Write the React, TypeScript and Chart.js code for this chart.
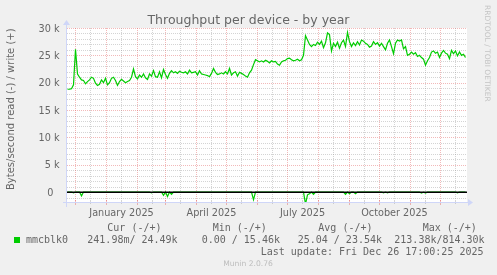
import React, { useEffect, useRef } from 'react';
import { Chart, registerables } from 'chart.js';

Chart.register(...registerables);

const WIDTH = 497;
const HEIGHT = 275;

// x axis: days since 1 January 2025; one sample every 2 days
const START_DAY = -39;
const STEP_DAYS = 2;
const X_MIN = -39.5;
const X_MAX = 360.5;
const Y_MIN = -2000;
const Y_MAX = 30000;

// write (+) throughput, thousands of bytes/second
const writeK = [
  18.8, 18.8, 18.9, 19.6, 26.1, 21.6, 21.0, 20.5, 20.4, 19.8,
  20.2, 20.5, 21.0, 20.8, 19.9, 19.5, 19.7, 20.5, 20.0, 20.8,
  19.6, 20.0, 20.8, 21.0, 20.4, 19.5, 20.2, 20.6, 20.3, 20.0,
  20.2, 20.4, 21.0, 22.5, 21.1, 20.7, 21.4, 21.0, 21.6, 20.9,
  20.6, 21.6, 21.2, 22.2, 21.1, 21.0, 22.0, 20.9, 22.4, 21.5,
  20.8, 21.7, 22.2, 21.8, 22.0, 21.7, 22.1, 21.9, 21.8, 22.0,
  21.6, 22.3, 21.8, 21.9, 22.0, 21.4, 22.2, 21.6, 21.5, 21.4,
  21.3, 21.1, 21.7, 22.6, 21.9, 21.5, 21.6, 21.8, 21.6, 22.0,
  21.6, 22.6, 21.4, 21.8, 22.0, 21.2, 21.9, 21.7, 21.5, 21.2,
  21.0, 21.8, 22.3, 23.3, 24.2, 24.0, 23.8, 24.0, 23.8, 24.1,
  23.9, 23.6, 24.0, 23.8, 23.9, 23.4, 23.2, 23.8, 24.0, 24.1,
  24.4, 24.5, 24.2, 24.0, 24.1, 24.3, 24.0, 24.2, 25.0, 28.6,
  27.8, 27.0, 26.6, 27.0, 26.8, 27.4, 27.0, 27.6, 26.4, 27.3,
  29.1, 28.8, 25.8, 27.2, 26.6, 27.4, 26.3, 27.3, 27.8, 26.6,
  29.2, 27.5, 26.6, 27.3, 26.8, 27.5, 26.9, 27.8, 27.6, 27.2,
  27.0, 26.5, 26.7, 27.5, 27.0, 27.3, 26.7, 27.2, 26.6, 26.0,
  27.2, 27.8, 26.6, 25.3, 27.2, 27.8, 27.6, 27.8, 26.2, 26.6,
  25.0, 25.2, 25.6, 25.2, 25.5, 24.8, 25.0, 24.6, 24.3, 23.2,
  24.0, 24.6, 25.6, 25.8, 25.4, 25.6, 24.6, 25.4, 25.9, 25.4,
  25.2, 24.4, 25.9, 25.3, 25.8, 24.9, 25.6, 25.0, 25.2, 24.6,
];

// read (-) throughput, thousands of bytes/second (drawn below zero)
const readK = [
  0, 0, 0, 0.15, 0, 0, 0, 0.7, 0, 0, 0, 0, 0, 0, 0, 0, 0, 0, 0, 0,
  0, 0, 0, 0, 0, 0, 0, 0, 0, 0, 0, 0, 0, 0, 0, 0, 0, 0, 0, 0,
  0, 0, 0.15, 0, 0, 0, 0, 0, 0.6, 0, 0.8, 0, 0.4, 0, 0, 0, 0, 0, 0, 0,
  0, 0, 0, 0, 0, 0, 0, 0, 0, 0, 0, 0, 0, 0, 0, 0, 0, 0, 0, 0,
  0, 0, 0, 0, 0, 0, 0, 0, 0, 0, 0, 0, 0, 1.4, 0, 0, 0, 0, 0, 0,
  0, 0, 0, 0, 0, 0, 0, 0, 0, 0, 0, 0, 0, 0, 0, 0, 0, 0, 0, 2.2,
  0.5, 0.3, 0, 0.4, 0, 0, 0, 0, 0, 0, 0, 0, 0, 0, 0, 0, 0, 0, 0, 0.4,
  0, 0.3, 0, 0, 0.3, 0, 0, 0, 0, 0, 0, 0, 0, 0, 0, 0, 0, 0, 0.15, 0,
  0.15, 0, 0, 0, 0, 0, 0, 0, 0, 0, 0, 0, 0, 0, 0, 0, 0, 0.2, 0, 0.2,
  0, 0, 0, 0, 0, 0, 0, 0, 0, 0, 0, 0, 0, 0, 0, 0.15, 0, 0, 0, 0,
];

// month starts (major grid) and mid-month (minor grid), days since 1 Jan 2025
const monthStartDays = [-31, 0, 31, 59, 90, 120, 151, 181, 212, 243, 273, 304, 334];
const midMonthDays = [-16, 15, 46, 74, 105, 135, 166, 196, 227, 258, 288, 319, 349];
const xLabelDays = [15, 105, 196, 288];
const xLabels = ['January 2025', 'April 2025', 'July 2025', 'October 2025'];

const yMajorValues = [0, 5000, 10000, 15000, 20000, 25000, 30000];
const yTickLabels = ['0  ', '5 k', '10 k', '15 k', '20 k', '25 k', '30 k'];
const yMinorStep = 1000;

const TITLE = 'Throughput per device - by year';
const Y_TITLE = 'Bytes/second read (-) / write (+)';
const WATERMARK = 'RRDTOOL / TOBI OETIKER';
const FOOTER = 'Munin 2.0.76';
const seriesName = 'mmcblk0';
const legendHeaders = ['Cur (-/+)', 'Min (-/+)', 'Avg (-/+)', 'Max (-/+)'];
const legendValues = ['241.98m/ 24.49k', '0.00 / 15.46k', '25.04 / 23.54k', '213.38k/814.30k'];
const LAST_UPDATE = 'Last update: Fri Dec 26 17:00:25 2025';

const GREEN = '#00CC00';
const FONT_COLOR = '#666666';
const AXIS_COLOR = '#CFD6F8';
const GRID_MINOR = 'rgba(143,143,143,0.38)';
const GRID_MAJOR = 'rgba(222,79,79,0.4)';

const headerX = [107.3, 212.7, 318.3, 422.7];
const valueX = [87.3, 201.7, 297.7, 394.3];

const muninPlugin = {
  id: 'muninDecor',
  beforeDraw(chart: any) {
    const { ctx, chartArea: a, scales } = chart;
    const x = scales.x;
    const y = scales.y;
    ctx.save();
    ctx.fillStyle = '#F0F0F0';
    ctx.fillRect(0, 0, WIDTH, HEIGHT);
    ctx.fillStyle = '#FFFFFF';
    ctx.fillRect(a.left, a.top, a.right - a.left, a.bottom - a.top);

    ctx.lineWidth = 1;
    ctx.setLineDash([1, 1]);
    // horizontal grid
    for (let v = Y_MIN + yMinorStep; v <= Y_MAX; v += yMinorStep) {
      const py = Math.round(y.getPixelForValue(v)) + 0.5;
      ctx.strokeStyle = v % 5000 === 0 ? GRID_MAJOR : GRID_MINOR;
      ctx.beginPath();
      ctx.moveTo(a.left, py);
      ctx.lineTo(a.right, py);
      ctx.stroke();
    }
    // vertical grid
    const vline = (d: number, color: string) => {
      if (d < X_MIN || d > X_MAX) return;
      const px = Math.floor(x.getPixelForValue(d)) + 0.5;
      ctx.strokeStyle = color;
      ctx.beginPath();
      ctx.moveTo(px, a.top);
      ctx.lineTo(px, a.bottom);
      ctx.stroke();
    };
    midMonthDays.forEach((d) => vline(d, GRID_MINOR));
    monthStartDays.forEach((d) => vline(d, GRID_MAJOR));
    ctx.restore();
  },
  afterDatasetsDraw(chart: any) {
    const { ctx, chartArea: a, scales } = chart;
    const x = scales.x;
    const y = scales.y;
    ctx.save();
    // zero rule
    const y0 = y.getPixelForValue(0) + 0.2;
    ctx.strokeStyle = '#000000';
    ctx.lineWidth = 1.3;
    ctx.beginPath();
    ctx.moveTo(a.left, y0);
    ctx.lineTo(a.right, y0);
    ctx.stroke();

    // axis ticks
    ctx.lineWidth = 1;
    monthStartDays.forEach((d) => {
      if (d < X_MIN || d > X_MAX) return;
      const px = Math.floor(x.getPixelForValue(d)) + 0.5;
      ctx.strokeStyle = GRID_MAJOR;
      ctx.beginPath();
      ctx.moveTo(px, a.bottom - 3);
      ctx.lineTo(px, a.bottom + 2);
      ctx.stroke();
    });
    midMonthDays.forEach((d) => {
      if (d < X_MIN || d > X_MAX) return;
      const px = Math.floor(x.getPixelForValue(d)) + 0.5;
      ctx.strokeStyle = GRID_MINOR;
      ctx.beginPath();
      ctx.moveTo(px, a.bottom - 2);
      ctx.lineTo(px, a.bottom + 1);
      ctx.stroke();
    });

    // axes
    ctx.strokeStyle = AXIS_COLOR;
    ctx.fillStyle = AXIS_COLOR;
    ctx.lineWidth = 1;
    const axY = a.bottom - 0.5;
    const axX = a.left - 0.5;
    ctx.beginPath();
    ctx.moveTo(a.left - 4, axY);
    ctx.lineTo(a.right + 2, axY);
    ctx.moveTo(axX, a.bottom + 4);
    ctx.lineTo(axX, a.top - 4);
    ctx.stroke();
    ctx.beginPath();
    ctx.moveTo(a.right + 1, axY - 3.5);
    ctx.lineTo(a.right + 6, axY);
    ctx.lineTo(a.right + 1, axY + 3.5);
    ctx.closePath();
    ctx.fill();
    ctx.beginPath();
    ctx.moveTo(axX - 3.5, a.top - 3);
    ctx.lineTo(axX, a.top - 8);
    ctx.lineTo(axX + 3.5, a.top - 3);
    ctx.closePath();
    ctx.fill();

    // title
    ctx.fillStyle = FONT_COLOR;
    ctx.font = '12.5px "DejaVu Sans"';
    ctx.textAlign = 'center';
    ctx.textBaseline = 'alphabetic';
    ctx.fillText(TITLE, 248.5, 23.8);

    // y tick labels
    ctx.font = '9.7px "DejaVu Sans"';
    ctx.textAlign = 'right';
    yMajorValues.forEach((v, i) => {
      const py = y.getPixelForValue(v);
      ctx.fillText(yTickLabels[i], 59.5, py + 3.6);
    });

    // x labels
    ctx.textAlign = 'center';
    xLabelDays.forEach((d, i) => {
      ctx.fillText(xLabels[i], x.getPixelForValue(d), 215.5);
    });

    // y axis title
    ctx.save();
    ctx.font = '10px "DejaVu Sans"';
    ctx.translate(14.2, 109.2);
    ctx.rotate(-Math.PI / 2);
    ctx.textAlign = 'center';
    ctx.fillText(Y_TITLE, 0, 0);
    ctx.restore();

    // watermark
    ctx.save();
    ctx.font = '7.5px "DejaVu Sans"';
    ctx.fillStyle = '#C4C4C4';
    ctx.translate(485, 5);
    ctx.rotate(Math.PI / 2);
    ctx.textAlign = 'left';
    ctx.fillText(WATERMARK, 0, 0);
    ctx.restore();

    // legend
    ctx.font = '10px "DejaVu Sans Mono"';
    ctx.textAlign = 'left';
    ctx.fillStyle = FONT_COLOR;
    legendHeaders.forEach((t, i) => ctx.fillText(t, headerX[i], 231));
    ctx.fillText(seriesName, 26, 243);
    legendValues.forEach((t, i) => ctx.fillText(t, valueX[i], 243));
    ctx.textAlign = 'right';
    ctx.fillText(LAST_UPDATE, 483.5, 255);
    ctx.fillStyle = GREEN;
    ctx.fillRect(14, 237, 6, 6);

    // footer
    ctx.font = '7.6px "DejaVu Sans"';
    ctx.fillStyle = '#BDBDBD';
    ctx.textAlign = 'center';
    ctx.fillText(FOOTER, 248, 266);
    ctx.restore();
  },
};

export default function App() {
  const ref = useRef<HTMLCanvasElement | null>(null);
  useEffect(() => {
    if (!ref.current) return;
    const writePts = writeK.map((v, i) => ({ x: START_DAY + i * STEP_DAYS, y: v * 1000 }));
    const readPts = readK.map((v, i) => ({ x: START_DAY + i * STEP_DAYS, y: -v * 1000 }));
    const chart = new Chart(ref.current, {
      type: 'line',
      data: {
        datasets: [
          { label: 'read', data: readPts, borderColor: GREEN, borderWidth: 1.2, pointRadius: 0, tension: 0, fill: false },
          { label: 'write', data: writePts, borderColor: GREEN, borderWidth: 1.2, pointRadius: 0, tension: 0, fill: false },
        ],
      },
      options: {
        responsive: false,
        animation: false,
        devicePixelRatio: 1,
        layout: { padding: { left: 67, right: 30, top: 28, bottom: 72 } },
        scales: {
          x: { type: 'linear', min: X_MIN, max: X_MAX, display: false },
          y: { type: 'linear', min: Y_MIN, max: Y_MAX, display: false },
        },
        plugins: { legend: { display: false }, tooltip: { enabled: false }, title: { display: false } },
        events: [],
      },
      plugins: [muninPlugin],
    });
    return () => chart.destroy();
  }, []);
  return (
    <div style={{ position: 'fixed', left: 0, top: 0, width: WIDTH, height: HEIGHT, background: '#F0F0F0' }}>
      <canvas ref={ref} width={WIDTH} height={HEIGHT} style={{ display: 'block', width: WIDTH, height: HEIGHT }} />
    </div>
  );
}
